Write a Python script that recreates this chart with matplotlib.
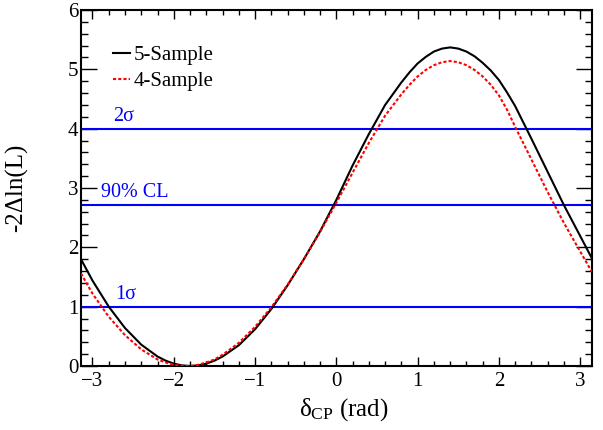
import numpy as np
import matplotlib
matplotlib.use("Agg")
import matplotlib.pyplot as plt

plt.rcParams['font.family'] = ['Liberation Serif', 'DejaVu Serif']
plt.rcParams['mathtext.fontset'] = 'custom'
plt.rcParams['mathtext.rm'] = 'Liberation Serif'
plt.rcParams['mathtext.it'] = 'Liberation Serif:italic'

# delta_CP scan points (rad) and -2 delta lnL values
dcp = [-3.1416, -3.0, -2.8, -2.6, -2.4, -2.2, -2.1, -2.0, -1.9, -1.8, -1.7, -1.6,
       -1.5, -1.4, -1.2, -1.0, -0.8, -0.6, -0.4, -0.2, 0.0, 0.2, 0.4, 0.6,
       0.8, 0.9, 1.0, 1.1, 1.2, 1.3, 1.4, 1.5, 1.6, 1.7, 1.8, 1.9, 2.0, 2.1,
       2.2, 2.4, 2.6, 2.8, 3.0, 3.1416]
five_sample = [1.80, 1.44, 1.00, 0.64, 0.36, 0.16, 0.09, 0.04, 0.01, 0.00, 0.01, 0.04,
               0.09, 0.16, 0.35, 0.62, 0.96, 1.36, 1.80, 2.27, 2.80, 3.38, 3.91, 4.40,
               4.78, 4.95, 5.10, 5.21, 5.30, 5.35, 5.37, 5.35, 5.30, 5.22, 5.11, 4.98, 4.82, 4.61,
               4.38, 3.83, 3.27, 2.71, 2.19, 1.82]
four_sample = [1.56, 1.22, 0.83, 0.52, 0.28, 0.11, 0.06, 0.02, 0.003, 0.00, 0.02, 0.06,
               0.11, 0.19, 0.39, 0.66, 0.99, 1.37, 1.80, 2.26, 2.75, 3.26, 3.76, 4.22,
               4.58, 4.74, 4.88, 4.99, 5.07, 5.12, 5.14, 5.12, 5.07, 4.99, 4.88, 4.74, 4.56, 4.32,
               4.03, 3.48, 2.93, 2.41, 1.93, 1.59]

levels = [1.0, 2.71, 4.0]
level_labels = ['1σ', '90% CL', '2σ']
label_x = [-2.72, -2.89, -2.75]

fig = plt.figure(figsize=(6.03, 4.30), dpi=100)
ax = fig.add_axes([0.1343, 0.1488, 0.847, 0.8279])

for lev, lab, lx in zip(levels, level_labels, label_x):
    ax.plot([-np.pi, np.pi], [lev, lev], color='#0000ff', lw=1.5, zorder=2)
    ax.text(lx, lev + 0.05, lab, color='#0000ff', fontsize=14.5, ha='left', va='bottom')

ax.plot(dcp, five_sample, color='black', lw=1.5, label='5-Sample', zorder=3)
ax.plot(dcp, four_sample, color='#ff0000', lw=1.5, ls=(0, (1.5, 1.0)),
        label='4-Sample', zorder=3)

ax.set_xlim(-np.pi, np.pi)
ax.set_ylim(0, 6)
ax.set_xticks([-3, -2, -1, 0, 1, 2, 3])
ax.set_xticks(np.arange(-3.0, 3.01, 0.2), minor=True)
ax.set_yticks([0, 1, 2, 3, 4, 5, 6])
ax.set_yticks(np.arange(0, 6.01, 0.2), minor=True)

ax.tick_params(axis='both', which='both', direction='in', top=True, right=True,
               labelsize=15, width=1.0)
ax.tick_params(axis='x', which='major', length=6.5, pad=4)
ax.tick_params(axis='x', which='minor', length=3.3)
ax.tick_params(axis='y', which='major', length=11.3, pad=2)
ax.tick_params(axis='y', which='minor', length=5)
for s in ax.spines.values():
    s.set_linewidth(1.5)

ax.set_xlabel(r'$\mathrm{δ}_{\mathrm{CP}}$ (rad)', fontsize=18)
ax.set_ylabel('-2Δln(L)', fontsize=18)
ax.xaxis.set_label_coords(0.515, -0.085)
ax.yaxis.set_label_coords(-0.104, 0.5)

ax.legend(loc='upper left', bbox_to_anchor=(0.0627, 0.90), frameon=False,
          fontsize=15, handlelength=0.82, handletextpad=0.15, labelspacing=0.32,
          borderpad=0, borderaxespad=0)

fig.savefig('out.png', dpi=100)
